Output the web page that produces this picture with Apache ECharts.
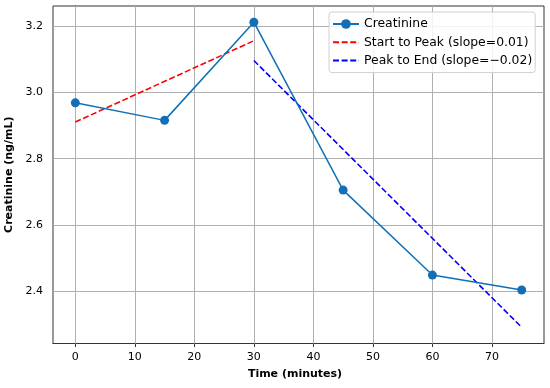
<!DOCTYPE html>
<html>
<head>
<meta charset="utf-8">
<script src="https://cdn.jsdelivr.net/npm/echarts@6/dist/echarts.min.js"></script>
<style>html,body{margin:0;padding:0;background:#fff;}#c{width:550px;height:388px;}</style>
</head>
<body>
<div id="c"></div>
<script>
const times = [0, 15, 30, 45, 60, 75];
const creatinine = [2.969, 2.916, 3.213, 2.705, 2.448, 2.403];
const startPeakX = [0, 30];
const startPeakY = [2.911, 3.157];
const peakEndX = [30, 75];
const peakEndY = [3.097, 2.290];
const xTicks = [0, 10, 20, 30, 40, 50, 60, 70];
const yTicks = [2.4, 2.6, 2.8, 3.0, 3.2];

const FONT = '"DejaVu Sans", sans-serif';
const pairs = (xs, ys) => xs.map((x, i) => [x, ys[i]]);

const gridLines = [];
xTicks.forEach(v => gridLines.push({ xAxis: v }));
yTicks.forEach(v => gridLines.push({ yAxis: v }));

const chart = echarts.init(document.getElementById('c'), null, { renderer: 'canvas' });
chart.setOption({
  animation: false,
  backgroundColor: '#fff',
  textStyle: { fontFamily: FONT },
  grid: { left: 53, right: 6, top: 6, bottom: 44.5, show: true, borderColor: '#333', borderWidth: 1, backgroundColor: 'transparent',
          outerBounds: { left: -200, right: -200, top: -200, bottom: -200 } },
  xAxis: {
    type: 'value', min: -3.75, max: 78.75,
    name: 'Time (minutes)', nameLocation: 'middle', nameGap: 25,
    nameTextStyle: { fontFamily: FONT, fontSize: 11, fontWeight: 'bold', color: '#000', padding: [0, 7, 0, 0] },
    axisLine: { show: true, lineStyle: { color: '#333', width: 1 } },
    axisTick: { show: true, length: 3.5, customValues: xTicks, lineStyle: { color: '#333' } },
    axisLabel: { customValues: xTicks, margin: 8.5, fontFamily: FONT, fontSize: 11, color: '#000' },
    splitLine: { show: false }
  },
  yAxis: {
    type: 'value', min: 2.241, max: 3.262,
    name: 'Creatinine (ng/mL)', nameLocation: 'middle', nameGap: 31,
    nameTextStyle: { fontFamily: FONT, fontSize: 11, fontWeight: 'bold', color: '#000' },
    axisLine: { show: true, lineStyle: { color: '#333', width: 1 } },
    axisTick: { show: true, length: 3.5, customValues: yTicks, lineStyle: { color: '#333' } },
    axisLabel: { customValues: yTicks, margin: 10, fontFamily: FONT, fontSize: 11, color: '#000', formatter: v => v.toFixed(1) },
    splitLine: { show: false }
  },
  legend: {
    left: 329, top: 12, orient: 'vertical', align: 'left',
    backgroundColor: 'rgba(255,255,255,0.85)', borderColor: '#d0d0d0', borderWidth: 1, borderRadius: 3,
    padding: [6, 3, 6, 3], itemWidth: 26, itemHeight: 12, itemGap: 6.3, itemTextGap: 10,
    textStyle: { fontFamily: FONT, fontSize: 12.4, color: '#000' },
    data: [
      { name: 'Creatinine' },
      { name: 'Start to Peak (slope=0.01)', itemStyle: { opacity: 0 } },
      { name: 'Peak to End (slope=\u22120.02)', itemStyle: { opacity: 0 } }
    ]
  },
  series: [
    {
      name: 'Start to Peak (slope=0.01)', type: 'line', z: 3,
      data: pairs(startPeakX, startPeakY), showSymbol: false, symbol: 'none',
      lineStyle: { color: '#ff0000', width: 1.6, type: [6, 2.6] }, itemStyle: { color: '#ff0000' },
      markLine: {
        silent: true, symbol: 'none', z: 1, animation: false,
        label: { show: false },
        lineStyle: { color: '#b0b0b0', width: 1, type: 'solid' },
        emphasis: { disabled: true },
        data: gridLines
      }
    },
    {
      name: 'Peak to End (slope=\u22120.02)', type: 'line', z: 3,
      data: pairs(peakEndX, peakEndY), showSymbol: false, symbol: 'none',
      lineStyle: { color: '#0000ff', width: 1.6, type: [6, 2.6] }, itemStyle: { color: '#0000ff' }
    },
    {
      name: 'Creatinine', type: 'line', z: 4,
      data: pairs(times, creatinine), symbol: 'circle', symbolSize: 9,
      lineStyle: { color: '#1170b5', width: 1.5 }, itemStyle: { color: '#1170b5' }
    }
  ]
});
</script>
</body>
</html>
